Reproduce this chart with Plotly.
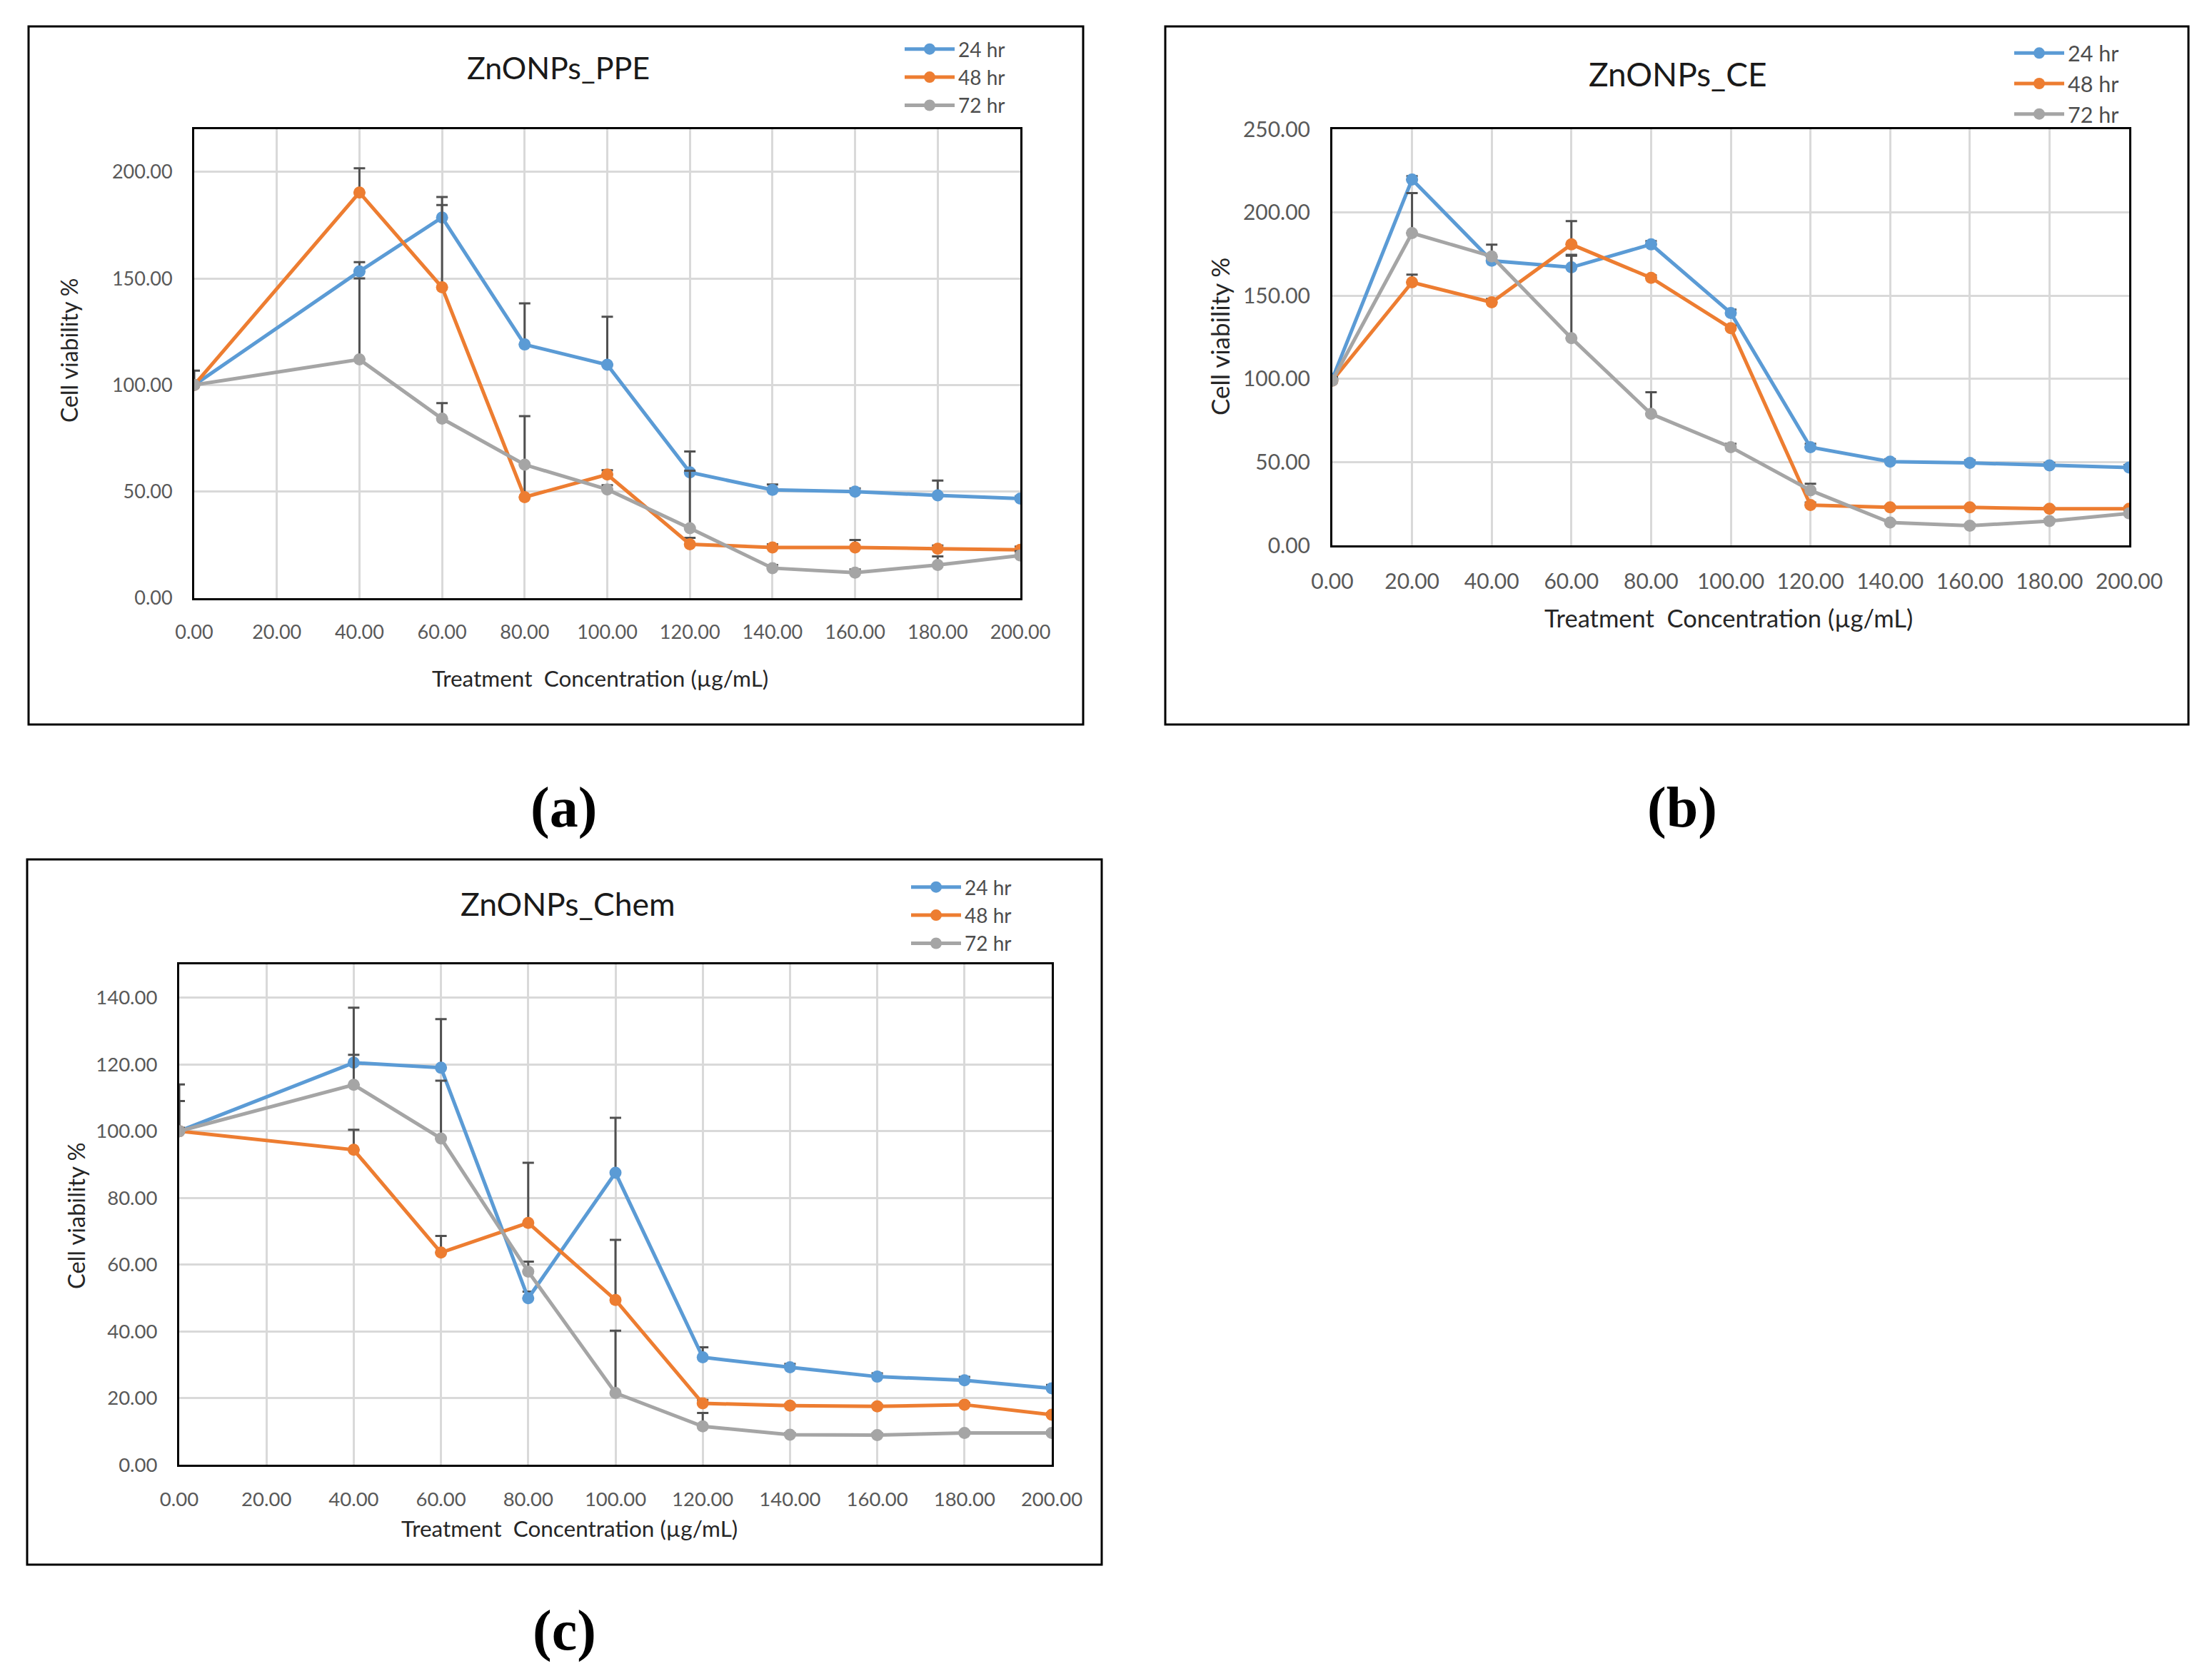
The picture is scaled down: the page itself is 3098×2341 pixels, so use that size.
import plotly.graph_objects as go

# concentrations (µg/mL)
conc_a = [0, 40, 60, 80, 100, 120, 140, 160, 180, 200]
conc_b = [0, 20, 40, 60, 80, 100, 120, 140, 160, 180, 200]
conc_c = [0, 40, 60, 80, 100, 120, 140, 160, 180, 200]

# ZnONPs_PPE
ppe_24 = [100, 153.3, 178.6, 119.0, 109.5, 59.0, 50.8, 50.0, 48.2, 46.7]
ppe_48 = [100, 190.3, 145.8, 47.4, 58.0, 25.3, 23.8, 23.8, 23.2, 22.7]
ppe_72 = [100, 112.0, 84.2, 62.6, 51.0, 32.8, 14.1, 12.0, 15.6, 20.0]
ppe_24_err = [0, 4.3, 9.6, 19.3, 22.5, 9.8, 2.5, 1.5, 7.0, 1.0]
ppe_48_err = [0, 11.4, 38.6, 38.0, 2.0, 3.0, 1.5, 3.5, 1.5, 1.5]
ppe_72_err = [6.7, 38.0, 7.3, 0, 2.0, 27.0, 1.5, 1.5, 4.0, 2.0]

# ZnONPs_CE
ce_24 = [100, 219.8, 171.0, 167.0, 180.8, 139.6, 59.0, 50.3, 49.5, 48.0, 46.7]
ce_48 = [99, 158.0, 146.0, 180.8, 160.7, 130.5, 24.2, 22.8, 22.8, 22.0, 22.0]
ce_72 = [99, 187.6, 173.6, 124.5, 79.0, 59.0, 33.0, 13.7, 11.8, 14.6, 19.2]
ce_24_err = [3, 2, 2, 7, 2, 2, 2, 1.5, 1.5, 1.5, 1.5]
ce_48_err = [0, 4.6, 2, 14, 1.5, 1.5, 1.5, 1, 1, 1, 1]
ce_72_err = [2, 24, 7, 50, 13, 2, 4, 1, 1, 1, 1]

# ZnONPs_Chem
chem_24 = [100, 120.5, 119.0, 49.9, 87.5, 32.2, 29.2, 26.4, 25.3, 22.9]
chem_48 = [100, 94.4, 63.6, 72.5, 49.4, 18.4, 17.7, 17.5, 18.0, 15.0]
chem_72 = [100, 113.9, 97.8, 57.9, 21.5, 11.5, 9.0, 8.9, 9.5, 9.5]
chem_24_err = [9, 16.5, 14.6, 2, 16.5, 3, 1, 1, 1, 1]
chem_48_err = [1, 6, 5, 18, 18, 1, 0.5, 0.5, 0.5, 0.5]
chem_72_err = [14, 9, 17.3, 3, 18.7, 4, 0.5, 0.5, 0.5, 0.5]

series_names = ["24 hr", "48 hr", "72 hr"]
colors = ["#5B9BD5", "#ED7D31", "#A5A5A5"]

W, H = 3098, 2341
FONT = "Lato"

# panel (b) is drawn at a slightly bigger scale in the original figure
panels = [
    dict(title="ZnONPs_PPE", x=conc_a, ys=[ppe_24, ppe_48, ppe_72],
         errs=[ppe_24_err, ppe_48_err, ppe_72_err], yrange=[0, 220], dtick=50,
         plot=(272, 181, 1429, 838), box=(40, 37, 1517, 1015),
         title_xy=(782, 94), xt_xy=(841, 950), yt_xy=(97, 491),
         leg_xy=(1262, 44), lab="(a)", lab_xy=(789, 1131),
         fs=dict(title=43, xt=31.5, yt=32, tick=27, leg=28)),
    dict(title="ZnONPs_CE", x=conc_b, ys=[ce_24, ce_48, ce_72],
         errs=[ce_24_err, ce_48_err, ce_72_err], yrange=[0, 250], dtick=50,
         plot=(1866, 181, 2982, 764), box=(1632, 37, 3065, 1015),
         title_xy=(2350, 104), xt_xy=(2421, 866), yt_xy=(1708, 472),
         leg_xy=(2816, 48), lab="(b)", lab_xy=(2356, 1131),
         fs=dict(title=46, xt=34.5, yt=35, tick=30, leg=30.5)),
    dict(title="ZnONPs_Chem", x=conc_c, ys=[chem_24, chem_48, chem_72],
         errs=[chem_24_err, chem_48_err, chem_72_err], yrange=[0, 150], dtick=20,
         plot=(251, 1351, 1473, 2052), box=(38, 1204, 1543, 2192),
         title_xy=(795, 1265), xt_xy=(797, 2141), yt_xy=(106, 1703),
         leg_xy=(1271, 1218), lab="(c)", lab_xy=(790, 2284),
         fs=dict(title=44.5, xt=31.5, yt=32.5, tick=27.5, leg=28)),
]


def note(text, xy, size, color, family=FONT, angle=0):
    return dict(text=text, x=xy[0] / W, y=1 - xy[1] / H, xref="paper",
                yref="paper", xanchor="center", yanchor="middle",
                showarrow=False, textangle=angle,
                font=dict(family=family, size=size, color=color))


fig = go.Figure()
shapes = []
annotations = []
layout = {}

for i, p in enumerate(panels):
    n = "" if i == 0 else str(i + 1)
    leg = "legend" + n
    fs = p["fs"]
    x0, y0, x1, y1 = p["plot"]
    for name, ys, err, col in zip(series_names, p["ys"], p["errs"], colors):
        fig.add_trace(go.Scatter(
            x=p["x"], y=ys, name=name, mode="lines+markers",
            line=dict(color=col, width=5),
            marker=dict(color=col, size=17),
            error_y=dict(type="data", symmetric=False, array=err,
                         arrayminus=[0] * len(err), color="#505050",
                         thickness=3, width=8),
            xaxis="x" + n, yaxis="y" + n, legend=leg,
        ))
    axis_common = dict(
        tickformat=".2f", showgrid=True, gridcolor="#D9D9D9", gridwidth=3,
        showline=True, linecolor="black", linewidth=3, mirror=True,
        zeroline=False, ticks="", ticklabelstandoff=22, automargin=False,
        tickfont=dict(family=FONT, size=fs["tick"], color="#595959"),
    )
    layout["xaxis" + n] = dict(domain=[x0 / W, x1 / W], anchor="y" + n,
                               range=[0, 200], dtick=20, **axis_common)
    layout["yaxis" + n] = dict(domain=[1 - y1 / H, 1 - y0 / H], anchor="x" + n,
                               range=p["yrange"], dtick=p["dtick"], **axis_common)
    lx, ly = p["leg_xy"]
    layout[leg] = dict(
        x=lx / W, y=1 - ly / H, xanchor="left", yanchor="top",
        bgcolor="rgba(0,0,0,0)", itemwidth=70, tracegroupgap=0,
        font=dict(family=FONT, size=fs["leg"], color="#4d4d4d"),
    )
    bx0, by0, bx1, by1 = p["box"]
    shapes.append(dict(type="rect", xref="paper", yref="paper",
                       x0=bx0 / W, x1=bx1 / W, y0=1 - by1 / H, y1=1 - by0 / H,
                       line=dict(color="black", width=3), layer="below"))
    annotations.append(note(p["title"], p["title_xy"], fs["title"], "#1a1a1a"))
    annotations.append(note("Treatment  Concentration (µg/mL)", p["xt_xy"],
                            fs["xt"], "#262626"))
    annotations.append(note("Cell viability %", p["yt_xy"], fs["yt"], "#262626",
                            angle=-90))
    annotations.append(note("<b>" + p["lab"] + "</b>", p["lab_xy"], 80, "black",
                            family="Liberation Serif"))

fig.update_layout(
    width=W, height=H, margin=dict(l=0, r=0, t=0, b=0),
    paper_bgcolor="white", plot_bgcolor="white",
    shapes=shapes, annotations=annotations, **layout,
)

fig.write_html("out.html", config={"displayModeBar": False},
               post_script="document.body.style.margin = '0';")
